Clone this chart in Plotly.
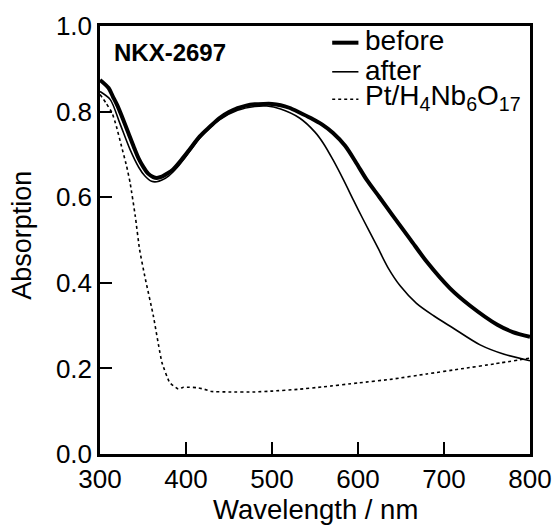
import plotly.graph_objects as go

# Wavelength (nm) and absorption values
wl_before = [300, 310, 315, 320, 327, 333, 339, 345, 350, 356, 362, 366, 372, 378, 385, 395,
             404, 416, 428, 439, 450, 460, 470, 480, 490, 500, 510, 520, 532, 545, 558, 571,
             585, 598, 610, 625, 640, 661, 680, 707, 730, 762, 780, 800]
abs_before = [0.874, 0.855, 0.835, 0.815, 0.781, 0.750, 0.719, 0.690, 0.672, 0.655, 0.647, 0.645,
              0.648, 0.655, 0.665, 0.688, 0.711, 0.742, 0.765, 0.785, 0.799, 0.808, 0.814, 0.817,
              0.818, 0.818, 0.815, 0.809, 0.798, 0.785, 0.770, 0.750, 0.720, 0.680, 0.641, 0.600,
              0.558, 0.501, 0.449, 0.387, 0.347, 0.302, 0.285, 0.274]

wl_after = [300, 312, 323, 335, 345, 352, 360, 366, 372, 380, 390, 404, 416, 439, 460, 480,
            494, 510, 532, 550, 560, 571, 583, 595, 605, 622, 635, 649, 668, 688, 710, 742,
            770, 800]
abs_after = [0.847, 0.828, 0.773, 0.711, 0.670, 0.650, 0.637, 0.636, 0.640, 0.650, 0.670, 0.706,
             0.738, 0.781, 0.803, 0.812, 0.813, 0.806, 0.785, 0.752, 0.725, 0.687, 0.641, 0.592,
             0.552, 0.486, 0.435, 0.393, 0.352, 0.323, 0.295, 0.255, 0.233, 0.218]

wl_pt = [300, 307, 314, 319, 325, 331, 335, 341, 346, 352, 362, 372, 381, 391, 397, 404, 412,
         420, 430, 450, 480, 500, 530, 560, 600, 640, 680, 720, 760, 800]
abs_pt = [0.840, 0.820, 0.797, 0.766, 0.719, 0.672, 0.634, 0.556, 0.478, 0.416, 0.323, 0.214,
          0.167, 0.152, 0.156, 0.156, 0.155, 0.152, 0.146, 0.145, 0.145, 0.147, 0.151, 0.157,
          0.166, 0.175, 0.187, 0.199, 0.211, 0.224]

x_ticks = [300, 400, 500, 600, 700, 800]
y_ticks = [0.0, 0.2, 0.4, 0.6, 0.8, 1.0]

FONT = "Liberation Sans, Arial, sans-serif"

fig = go.Figure()
fig.add_trace(go.Scatter(x=wl_before, y=abs_before, mode="lines", line=dict(color="black", width=4, shape="spline", smoothing=0.8)))
fig.add_trace(go.Scatter(x=wl_after, y=abs_after, mode="lines", line=dict(color="black", width=1.6, shape="spline", smoothing=0.8)))
fig.add_trace(go.Scatter(x=wl_pt, y=abs_pt, mode="lines", line=dict(color="black", width=1.6, dash="dot", shape="spline", smoothing=0.4)))

axis_common = dict(showgrid=False, zeroline=False, showline=True, linecolor="black", linewidth=2.5,
                   mirror=True, ticks="inside", ticklen=12, tickwidth=2, tickcolor="black",
                   automargin=False,
                   tickfont=dict(family=FONT, size=26, color="black"))
fig.update_xaxes(range=[300, 800], tickvals=x_ticks, ticktext=[str(v) for v in x_ticks], **axis_common)
fig.update_yaxes(range=[0, 1.0], tickvals=y_ticks, ticktext=[f"{v:.1f}" for v in y_ticks], **axis_common)

# legend (drawn manually)
leg_x0, leg_x1, leg_tx = 0.540, 0.601, 0.612
leg = [("before", 0.961, 4, "solid"), ("after", 0.893, 1.6, "solid"),
       ("Pt/H<sub>4</sub>Nb<sub>6</sub>O<sub>17</sub>", 0.829, 1.6, "dot")]
shapes = []
annotations = []
for label, yy, w, d in leg:
    shapes.append(dict(type="line", xref="paper", yref="paper", x0=leg_x0, x1=leg_x1, y0=yy, y1=yy,
                       line=dict(color="black", width=w, dash=d)))
    annotations.append(dict(text=label, xref="paper", yref="paper", x=leg_tx, y=yy + 0.004, xanchor="left",
                            yanchor="middle", showarrow=False, font=dict(family=FONT, size=28, color="black")))

annotations.append(dict(text="<b>NKX-2697</b>", xref="paper", yref="paper", x=0.163, y=0.937,
                        xanchor="center", yanchor="middle", showarrow=False,
                        font=dict(family=FONT, size=24, color="black")))
annotations.append(dict(text="Wavelength / nm", xref="paper", yref="paper", x=0.5006, y=-0.1295,
                        xanchor="center", yanchor="middle", showarrow=False,
                        font=dict(family=FONT, size=27.5, color="black")))
annotations.append(dict(text="Absorption", xref="paper", yref="paper", x=-0.1816, y=0.512,
                        xanchor="center", yanchor="middle", showarrow=False, textangle=-90,
                        font=dict(family=FONT, size=27, color="black")))

fig.update_layout(width=554, height=529, margin=dict(l=100, r=24, t=26, b=75, autoexpand=False),
                  paper_bgcolor="white", plot_bgcolor="white", showlegend=False,
                  shapes=shapes, annotations=annotations)

fig.write_html("out.html")
